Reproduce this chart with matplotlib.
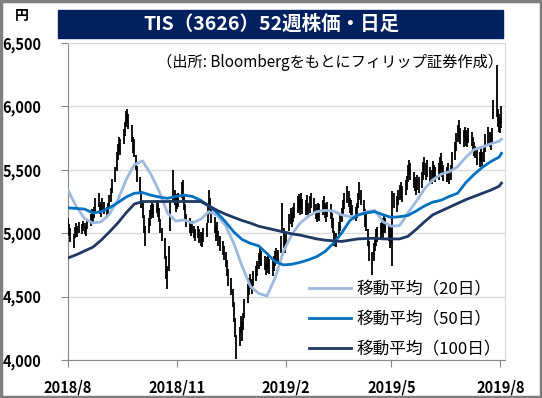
import pandas as pd
import numpy as np
import matplotlib
matplotlib.use('Agg')
import matplotlib.pyplot as plt
from matplotlib.lines import Line2D
from matplotlib.patches import Rectangle

plt.rcParams['font.family'] = ['Noto Sans CJK JP', 'DejaVu Sans']

# daily low / high (yen), trading days from 2018/8/1
lows = [5040, 4980, 4930, 4880, 4960, 4990, 4970, 5000, 4990, 5020,
        4990, 4980, 5030, 5060, 5090, 5080, 5120, 5170, 5210, 5150,
        5130, 5180, 5150, 5120, 5140, 5200, 5250, 5320, 5400, 5490,
        5580, 5640, 5620, 5700, 5770, 5840, 5870, 5820, 5720, 5630,
        5600, 5500, 5400, 5320, 5200, 5120, 5000, 4900, 5000, 5060,
        5110, 5150, 5120, 5160, 5130, 5090, 5000, 4940, 4800, 4640,
        4560, 4700, 5020, 5250, 5220, 5170, 5190, 5210, 5280, 5260,
        5180, 5100, 5050, 5000, 4980, 5000, 4960, 4940, 4960, 4920,
        4900, 4890, 4930, 4970, 5080, 5200, 5150, 5080, 5000, 4940,
        4970, 4900, 4860, 4830, 4790, 4730, 4660, 4580, 4510, 4420,
        4300, 4180, 4010, 4110, 4210, 4150, 4240, 4330, 4450, 4510,
        4560, 4520, 4580, 4620, 4660, 4720, 4760, 4740, 4710, 4670,
        4690, 4720, 4680, 4660, 4700, 4740, 4770, 4760, 4840, 5000,
        4880, 4840, 4880, 5020, 5070, 5050, 5090, 5120, 5160, 5180,
        5140, 5190, 5150, 5140, 5170, 5120, 5160, 5200, 5150, 5110,
        5090, 5120, 5100, 5140, 5170, 5120, 5090, 5130, 5110, 5040,
        5000, 4900, 4890, 4960, 5020, 5090, 5140, 5190, 5240, 5210,
        5160, 5140, 5110, 5100, 5120, 5200, 5260, 5220, 5140, 5050,
        5020, 4900, 4780, 4670, 4780, 4860, 4900, 4930, 4960, 4990,
        4960, 5020, 5000, 4940, 4880, 4920, 4740, 5200, 5170, 5220,
        5260, 5280, 5250, 5300, 5340, 5400, 5460, 5420, 5360, 5330,
        5300, 5340, 5320, 5360, 5420, 5460, 5420, 5440, 5400, 5390,
        5440, 5410, 5400, 5420, 5460, 5500, 5440, 5410, 5400, 5420,
        5390, 5420, 5500, 5580, 5650, 5720, 5760, 5700, 5680, 5720,
        5690, 5680, 5710, 5690, 5650, 5610, 5590, 5540, 5520, 5560,
        5530, 5560, 5640, 5700, 5680, 5660, 5700, 5900, 5920, 5840,
        5800, 5790, 5830]
highs = [5120, 5070, 5040, 4990, 5050, 5080, 5060, 5090, 5070, 5100,
         5080, 5060, 5110, 5150, 5190, 5170, 5210, 5280, 5320, 5250,
         5230, 5280, 5250, 5210, 5240, 5300, 5360, 5430, 5520, 5640,
         5700, 5760, 5740, 5820, 5880, 5960, 5980, 5940, 5850, 5760,
         5740, 5620, 5530, 5440, 5330, 5240, 5140, 5060, 5120, 5180,
         5220, 5250, 5230, 5260, 5240, 5200, 5110, 5040, 4960, 4820,
         4740, 4900, 5260, 5500, 5340, 5290, 5310, 5320, 5400, 5420,
         5310, 5230, 5150, 5120, 5090, 5100, 5060, 5030, 5060, 5030,
         5010, 5000, 5040, 5080, 5220, 5340, 5280, 5200, 5130, 5060,
         5090, 5020, 4980, 4940, 4900, 4850, 4790, 4720, 4650, 4560,
         4460, 4330, 4200, 4260, 4350, 4300, 4370, 4480, 4600, 4650,
         4680, 4640, 4700, 4740, 4780, 4840, 4880, 4860, 4820, 4780,
         4810, 4840, 4800, 4780, 4820, 4860, 4880, 4870, 4980, 5240,
         5040, 4960, 5000, 5150, 5200, 5160, 5210, 5240, 5290, 5310,
         5270, 5320, 5270, 5260, 5300, 5240, 5290, 5320, 5280, 5230,
         5200, 5240, 5230, 5260, 5290, 5240, 5220, 5250, 5230, 5160,
         5120, 5020, 5000, 5090, 5140, 5200, 5260, 5320, 5370, 5330,
         5280, 5260, 5220, 5210, 5240, 5320, 5400, 5340, 5260, 5190,
         5150, 5030, 4940, 4850, 4920, 4960, 5030, 5050, 5080, 5120,
         5090, 5140, 5120, 5070, 5040, 5060, 5330, 5320, 5290, 5340,
         5380, 5400, 5370, 5420, 5450, 5540, 5580, 5550, 5480, 5440,
         5420, 5460, 5440, 5480, 5560, 5600, 5550, 5580, 5520, 5500,
         5570, 5540, 5520, 5550, 5600, 5630, 5570, 5540, 5520, 5550,
         5500, 5540, 5640, 5720, 5790, 5850, 5890, 5830, 5810, 5840,
         5810, 5800, 5830, 5800, 5760, 5720, 5690, 5660, 5640, 5680,
         5640, 5680, 5780, 5840, 5800, 5780, 5830, 6050, 6330, 5980,
         5940, 5920, 6000]

# moving averages, read every 5 trading days (last point = last day)
ma20 = [5340, 5210, 5115, 5080, 5090, 5150, 5260, 5420, 5540, 5570,
        5465, 5330, 5160, 5095, 5105, 5080, 5110, 5170, 5140, 5060,
        4920, 4740, 4580, 4525, 4505, 4650, 4860, 4990, 5080, 5135,
        5170, 5180, 5175, 5145, 5130, 5140, 5170, 5180, 5090, 5055,
        5060, 5160, 5250, 5350, 5420, 5465, 5485, 5525, 5600, 5660,
        5680, 5705, 5725, 5740]
ma50 = [5200, 5195, 5190, 5160, 5170, 5200, 5240, 5285, 5315, 5320,
        5300, 5285, 5275, 5290, 5300, 5290, 5260, 5215, 5160, 5090,
        5010, 4950, 4920, 4900, 4840, 4775, 4750, 4755, 4770, 4790,
        4815, 4855, 4920, 5000, 5100, 5145, 5160, 5170, 5145, 5125,
        5130, 5140, 5175, 5215, 5245, 5260, 5290, 5315, 5400, 5465,
        5520, 5565, 5600, 5630]
ma100 = [4805, 4830, 4860, 4890, 4945, 5010, 5080, 5160, 5230, 5250,
         5250, 5250, 5250, 5250, 5250, 5250, 5250, 5215, 5180, 5150,
         5125, 5100, 5080, 5055, 5040, 5025, 5010, 4995, 4985, 4970,
         4955, 4945, 4940, 4935, 4945, 4955, 4958, 4960, 4955, 4955,
         4955, 4975, 5030, 5090, 5145, 5175, 5205, 5235, 5265, 5290,
         5315, 5340, 5370, 5395]

ma_labels = ['移動平均（20日）', '移動平均（50日）', '移動平均（100日）']
ma_colors = ['#9DB9DD', '#0070C0', '#1F3864']
tick_dates = ['2018-08-01', '2018-11-01', '2019-02-01', '2019-05-01', '2019-08-01']
tick_labels = ['2018/8', '2018/11', '2019/2', '2019/5', '2019/8']
y_ticks = [4000, 4500, 5000, 5500, 6000, 6500]

dates = pd.bdate_range('2018-08-01', periods=len(lows))
ma_idx = list(range(0, 5 * (len(ma20) - 1), 5)) + [len(dates) - 1]
ma_dates = dates[ma_idx]

fig = plt.figure(figsize=(5.42, 3.98), dpi=100)
ax = fig.add_axes([68 / 542, 1 - 360 / 398, 437 / 542, 317 / 398])

# candles
ax.vlines(dates, lows, highs, color='black', lw=1.3, zorder=3)

# moving averages
for vals, col in zip([ma20, ma50, ma100], ma_colors):
    ax.plot(ma_dates, vals, color=col, lw=2.0, zorder=4)

ax.set_ylim(4000, 6500)
ax.set_xlim(pd.Timestamp('2018-08-01'), pd.Timestamp('2019-08-05'))
ax.set_yticks(y_ticks)
ax.set_yticklabels([f'{v:,}' for v in y_ticks], fontsize=10.5, fontweight='bold')
ax.set_xticks(pd.to_datetime(tick_dates))
ax.set_xticklabels(tick_labels, fontsize=10.5, fontweight='bold')
ax.grid(axis='y', color='#D9D9D9', lw=1.0, zorder=0)
ax.tick_params(axis='y', length=5, color='#868686', pad=14)
ax.tick_params(axis='x', length=5, color='#868686', pad=9)
for s in ['left', 'bottom']:
    ax.spines[s].set_color('#868686')
for s in ['top', 'right']:
    ax.spines[s].set_color('#D9D9D9')

handles = [Line2D([], [], color=c, lw=2.0) for c in ma_colors]
ax.legend(handles, ma_labels, loc='lower right', bbox_to_anchor=(1.005, -0.015),
          frameon=False, fontsize=12, handlelength=2.5, handletextpad=0.3,
          labelspacing=0.78, borderaxespad=0.0)

ax.text(0.995, 0.94, '（出所: Bloombergをもとにフィリップ証券作成）', transform=ax.transAxes,
        ha='right', va='center', fontsize=11)

# title band
fig.patches.append(Rectangle((58 / 542, 1 - 38 / 398), 445 / 542, 28 / 398,
                             transform=fig.transFigure, color='#002060', zorder=0))
fig.text(271 / 542, 1 - 24 / 398, 'TIS（3626）52週株価・日足', color='white',
         fontsize=14, fontweight='bold', ha='center', va='center')
fig.text(22 / 542, 1 - 16 / 398, '円', fontsize=10, fontweight='bold', ha='center', va='center')

# outer frame
fig.patches.append(Rectangle((0.002, 0.003), 0.996, 0.994, transform=fig.transFigure,
                             fill=False, edgecolor='#7F7F7F', lw=2.5))

fig.savefig('out.png', dpi=100)
